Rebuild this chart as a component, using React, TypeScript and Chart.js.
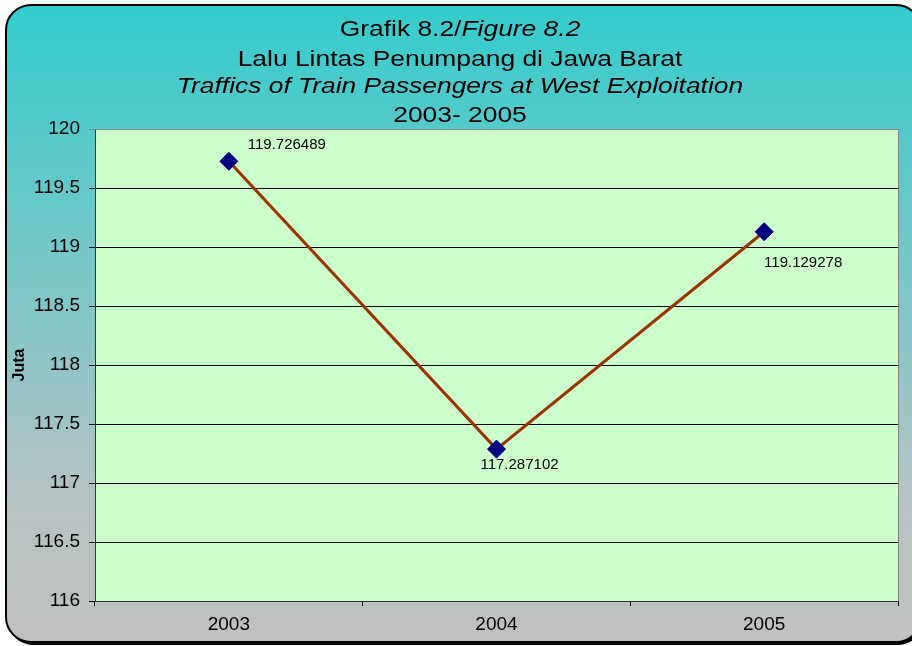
import React, { useEffect, useRef } from 'react';
import { Chart, registerables } from 'chart.js';

Chart.register(...registerables);

// ---- data ----
const categories: string[] = ['2003', '2004', '2005'];
const passengers: number[] = [119.726489, 117.287102, 119.129278];
const yMin = 116;
const yMax = 120;
const yStep = 0.5;
const yAxisTitle = 'Juta';
const titleLine1Normal = 'Grafik 8.2/';
const titleLine1Italic = 'Figure 8.2';
const titleLine2 = 'Lalu Lintas Penumpang di Jawa Barat';
const titleLine3 = 'Traffics of Train Passengers at West Exploitation';
const titleLine4 = '2003- 2005';

const FONT = "'Liberation Sans', Arial, Helvetica, sans-serif";

function roundRectPath(ctx: CanvasRenderingContext2D, x: number, y: number, w: number, h: number, r: number) {
  ctx.beginPath();
  ctx.moveTo(x + r, y);
  ctx.lineTo(x + w - r, y);
  ctx.arcTo(x + w, y, x + w, y + r, r);
  ctx.lineTo(x + w, y + h - r);
  ctx.arcTo(x + w, y + h, x + w - r, y + h, r);
  ctx.lineTo(x + r, y + h);
  ctx.arcTo(x, y + h, x, y + h - r, r);
  ctx.lineTo(x, y + r);
  ctx.arcTo(x, y, x + r, y, r);
  ctx.closePath();
}

const backgroundPlugin = {
  id: 'bgPlugin',
  beforeDraw(chart: any) {
    const ctx: CanvasRenderingContext2D = chart.ctx;
    const { left, top, right, bottom } = chart.chartArea;
    ctx.save();
    roundRectPath(ctx, 8, 7, 915, 638, 25);
    ctx.fillStyle = '#000000';
    ctx.fill();
    const g = ctx.createLinearGradient(0, 5, 0, 642);
    g.addColorStop(0, '#33CCCC');
    g.addColorStop(0.45, '#80C6C8');
    g.addColorStop(0.8, '#B8C2C2');
    g.addColorStop(1, '#C0C0C0');
    roundRectPath(ctx, 6, 5, 915, 637, 25);
    ctx.fillStyle = g;
    ctx.fill();
    ctx.lineWidth = 2;
    ctx.strokeStyle = '#000000';
    ctx.stroke();
    ctx.fillStyle = '#CCFFCC';
    ctx.fillRect(left, top, right - left, bottom - top);
    ctx.restore();
  },
  beforeDatasetsDraw(chart: any) {
    const ctx: CanvasRenderingContext2D = chart.ctx;
    const { left, top, right, bottom } = chart.chartArea;
    ctx.save();
    ctx.strokeStyle = '#808080';
    ctx.lineWidth = 1;
    ctx.beginPath();
    ctx.moveTo(left, Math.round(top) + 0.5);
    ctx.lineTo(Math.round(right) + 0.5, Math.round(top) + 0.5);
    ctx.lineTo(Math.round(right) + 0.5, bottom);
    ctx.stroke();
    ctx.restore();
  },
  afterDraw(chart: any) {
    const ctx: CanvasRenderingContext2D = chart.ctx;
    const cx = 460;
    const sx = 1.2;
    ctx.save();
    ctx.fillStyle = '#000000';
    ctx.textBaseline = 'alphabetic';
    const fN = `22px ${FONT}`;
    const fI = `italic 22px ${FONT}`;
    ctx.font = fN;
    const w1 = ctx.measureText(titleLine1Normal).width;
    ctx.font = fI;
    const w2 = ctx.measureText(titleLine1Italic).width;
    ctx.save();
    ctx.translate(cx, 36);
    ctx.scale(sx, 1);
    ctx.textAlign = 'left';
    ctx.font = fN;
    ctx.fillText(titleLine1Normal, -(w1 + w2) / 2, 0);
    ctx.font = fI;
    ctx.fillText(titleLine1Italic, -(w1 + w2) / 2 + w1, 0);
    ctx.restore();
    const lines: [string, string, number][] = [
      [titleLine2, fN, 66],
      [titleLine3, fI, 93],
      [titleLine4, fN, 122],
    ];
    for (const [t, f, y] of lines) {
      ctx.save();
      ctx.translate(cx, y);
      ctx.scale(sx, 1);
      ctx.font = f;
      ctx.textAlign = 'center';
      ctx.fillText(t, 0, 0);
      ctx.restore();
    }
    ctx.restore();
  },
  afterDatasetsDraw(chart: any) {
    const ctx: CanvasRenderingContext2D = chart.ctx;
    const meta = chart.getDatasetMeta(0);
    const offsets = [
      [58, -16],
      [23, 16],
      [39, 31],
    ];
    ctx.save();
    ctx.font = `15px ${FONT}`;
    ctx.fillStyle = '#000000';
    ctx.textAlign = 'center';
    ctx.textBaseline = 'middle';
    meta.data.forEach((pt: any, i: number) => {
      const v = chart.data.datasets[0].data[i];
      const o = offsets[i] || [0, -15];
      ctx.fillText(String(v), pt.x + o[0], pt.y + o[1]);
    });
    ctx.restore();
  },
};

export default function App() {
  const ref = useRef<HTMLCanvasElement | null>(null);
  useEffect(() => {
    if (!ref.current) return;
    const chart = new Chart(ref.current, {
      type: 'line',
      data: {
        labels: categories,
        datasets: [
          {
            data: passengers,
            borderColor: '#993300',
            borderWidth: 3,
            pointStyle: 'rectRot',
            pointRadius: 9,
            pointHoverRadius: 9,
            pointBackgroundColor: '#000080',
            pointBorderColor: '#000080',
            pointBorderWidth: 1,
            tension: 0,
            fill: false,
            clip: false as any,
          },
        ],
      },
      options: {
        responsive: false,
        animation: false,
        events: [],
        layout: { padding: { top: 129, right: 14, left: 0, bottom: 0 } },
        plugins: {
          legend: { display: false },
          tooltip: { enabled: false },
          title: { display: false },
        },
        scales: {
          x: {
            type: 'category',
            offset: true,
            grid: {
              offset: true,
              drawOnChartArea: false,
              drawTicks: true,
              tickLength: 5,
              color: '#000000',
            },
            border: { color: '#333333', width: 1 },
            ticks: {
              color: '#000000',
              font: { family: FONT, size: 19 },
              padding: 7,
              maxRotation: 0,
            },
            afterFit: (s: any) => {
              s.height = 45;
            },
          },
          y: {
            min: yMin,
            max: yMax,
            grid: {
              color: (c: any) => (c.tick && c.tick.value === yMax ? '#808080' : '#000000'),
              tickLength: 6,
              lineWidth: 1,
            },
            border: { color: '#333333', width: 1 },
            ticks: {
              stepSize: yStep,
              color: '#000000',
              font: { family: FONT, size: 19 },
              padding: 9,
              callback: (v: any) => String(Number(v)),
            },
            title: {
              display: true,
              text: yAxisTitle,
              color: '#000000',
              font: { family: FONT, size: 16, weight: 'bold' },
              padding: { top: 10, bottom: 0 },
            },
            afterFit: (s: any) => {
              s.width = 95;
            },
          },
        },
      },
      plugins: [backgroundPlugin],
    });
    return () => chart.destroy();
  }, []);
  return (
    <div style={{ position: 'absolute', left: 0, top: 0, width: 912, height: 646 }}>
      <canvas ref={ref} width={912} height={646} style={{ display: 'block' }} />
    </div>
  );
}
